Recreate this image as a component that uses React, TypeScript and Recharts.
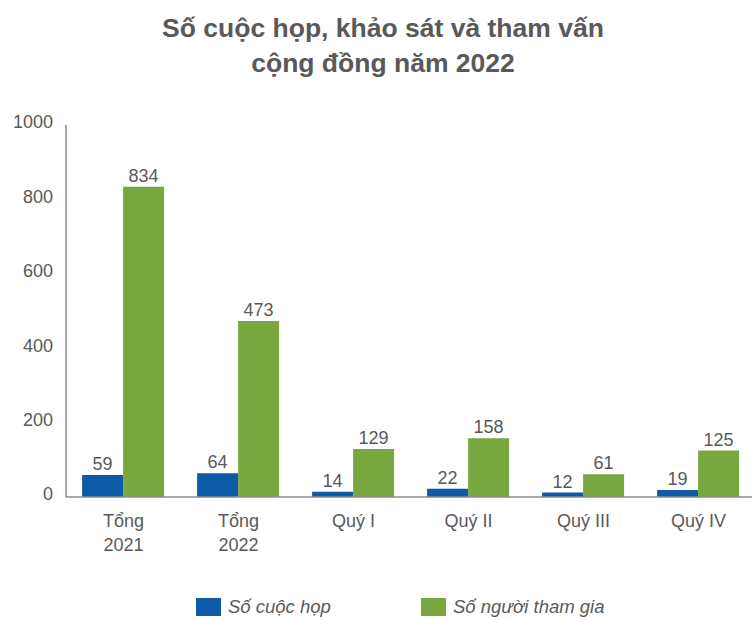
import { BarChart, Bar, XAxis, YAxis, LabelList, Legend } from "recharts";

// Categories and series
const categories = ["Tổng\n2021", "Tổng\n2022", "Quý I", "Quý II", "Quý III", "Quý IV"];
const meetings = [59, 64, 14, 22, 12, 19];
const participants = [834, 473, 129, 158, 61, 125];
const yTicks = [0, 200, 400, 600, 800, 1000];

const BLUE = "#0D5BA8";
const GREEN = "#78A740";
const TEXT = "#595959";
const FONT = "'Liberation Sans', Arial, sans-serif";

const data = categories.map((name, i) => ({
  name,
  meetings: meetings[i],
  participants: participants[i],
}));

/** Multi-line category tick: splits on "\n" */
function CategoryTick(props: any) {
  const { x, y, payload } = props;
  const lines = String(payload.value).split("\n");
  return (
    <text x={x} y={y} textAnchor="middle" fill={TEXT} fontSize={18} fontFamily={FONT}>
      {lines.map((line, i) => (
        <tspan key={i} x={x} dy={i === 0 ? 22 : 24}>
          {line}
        </tspan>
      ))}
    </text>
  );
}

/** Legend with square swatches and italic labels, laid out like the original */
function ChartLegend() {
  const items = [
    { label: "Số cuộc họp", color: BLUE },
    { label: "Số người tham gia", color: GREEN },
  ];
  return (
    <div style={{ display: "flex", paddingLeft: 196, paddingTop: 26 }}>
      {items.map((it, i) => (
        <div key={it.label} style={{ display: "flex", alignItems: "center", width: i === 0 ? 225 : "auto" }}>
          <span style={{ width: 25, height: 18, background: it.color, display: "inline-block", marginRight: 7 }} />
          <span style={{ fontStyle: "italic", fontSize: 18.5, color: TEXT, fontFamily: FONT }}>{it.label}</span>
        </div>
      ))}
    </div>
  );
}

export default function App() {
  return (
    <div style={{ position: "absolute", left: 0, top: 0, width: 752, height: 620, background: "#fff", fontFamily: FONT }}>
      <div
        style={{
          position: "absolute",
          top: 11,
          left: 14,
          width: 738,
          textAlign: "center",
          fontWeight: "bold",
          fontSize: 26.5,
          lineHeight: "35px",
          color: TEXT,
        }}
      >
        Số cuộc họp, khảo sát và tham vấn
        <br />
        cộng đồng năm 2022
      </div>
      <BarChart
        width={752}
        height={620}
        data={data}
        margin={{ top: 125, right: -4, bottom: 0, left: 0 }}
        barCategoryGap="14%"
        barGap={0}
      >
        <YAxis
          domain={[0, 1000]}
          ticks={yTicks}
          width={66}
          axisLine={{ stroke: "#8C8C8C", strokeWidth: 1.5 }}
          tickLine={false}
          tickSize={0}
          tickMargin={13}
          tick={{ fill: TEXT, fontSize: 18, fontFamily: FONT, dy: -3 }}
        />
        <XAxis
          dataKey="name"
          height={73}
          axisLine={{ stroke: "#8C8C8C", strokeWidth: 1.5 }}
          tickLine={false}
          interval={0}
          tick={<CategoryTick />}
        />
        <Legend verticalAlign="bottom" height={50} content={() => <ChartLegend />} />
        <Bar dataKey="meetings" fill={BLUE} isAnimationActive={false}>
          <LabelList dataKey="meetings" position="top" offset={5} fill={TEXT} fontSize={18} fontFamily={FONT} />
        </Bar>
        <Bar dataKey="participants" fill={GREEN} isAnimationActive={false}>
          <LabelList dataKey="participants" position="top" offset={5} fill={TEXT} fontSize={18} fontFamily={FONT} />
        </Bar>
      </BarChart>
    </div>
  );
}
